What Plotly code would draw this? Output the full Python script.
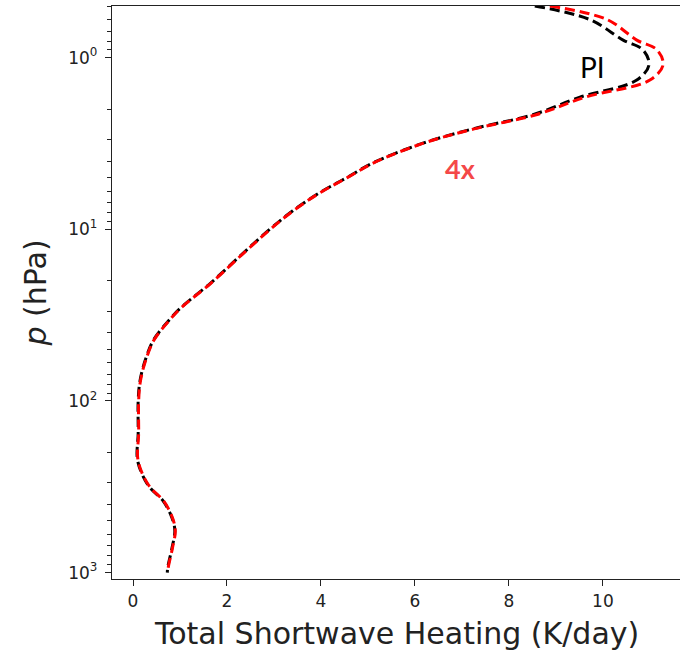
import numpy as np
import plotly.graph_objects as go

# Pressure levels (hPa)
p_levels = [0.5, 0.6, 0.79, 0.9, 1.1, 1.35, 1.7, 2.15, 2.6, 3.15, 4.1, 5.0, 6.1, 7.8,
            10.0, 13.8, 20.7, 28.6, 35.0, 44.5, 58.0, 76.0, 100.0, 155.0, 215.0,
            266.0, 320.0, 382.0, 480.0, 570.0, 718.0, 933.0, 1000.0]

# Total shortwave heating (K/day)
heating_pi = [8.55, 9.72, 10.43, 10.85, 10.98, 10.72, 9.51, 8.51, 7.23, 6.17, 5.11, 4.55,
              3.98, 3.40, 2.91, 2.34, 1.64, 1.02, 0.72, 0.43, 0.26, 0.15, 0.11, 0.11,
              0.09, 0.19, 0.36, 0.64, 0.83, 0.89, 0.83, 0.74, 0.73]
heating_4x = [8.87, 10.09, 10.72, 11.15, 11.28, 11.0, 9.62, 8.58, 7.26, 6.18, 5.12, 4.56,
              3.99, 3.41, 2.92, 2.35, 1.65, 1.03, 0.73, 0.44, 0.27, 0.16, 0.12, 0.12,
              0.10, 0.20, 0.37, 0.65, 0.84, 0.90, 0.84, 0.75, 0.74]

x_ticks = [0, 2, 4, 6, 8, 10]
y_ticks = [1, 10, 100, 1000]
y_tick_text = ["10<sup>0</sup>", "10<sup>1</sup>", "10<sup>2</sup>", "10<sup>3</sup>"]
y_minor = [m * 10.0 ** e for e in range(-1, 3) for m in range(2, 10) if 0.5 <= m * 10.0 ** e <= 1000]

W, H = 680, 659
L, R, T, B = 112, 0, 6, 80

fig = go.Figure()
fig.add_trace(go.Scatter(x=heating_pi, y=p_levels, mode="lines", line_shape="spline",
                         line=dict(color="black", width=3, dash="10px,5px"), showlegend=False))
fig.add_trace(go.Scatter(x=heating_4x, y=p_levels, mode="lines", line_shape="spline",
                         line=dict(color="#ff0000", width=3, dash="10px,5px"), showlegend=False))

axis_font = dict(family="DejaVu Sans", size=17, color="#222")
fig.update_layout(
    width=W, height=H,
    margin=dict(l=L, r=R, t=T, b=B),
    paper_bgcolor="white", plot_bgcolor="white",
    xaxis=dict(range=[-0.447, 11.64], tickvals=x_ticks, ticks="outside", ticklen=6,
               tickwidth=1.2, tickcolor="#222", showline=True, linecolor="#222", linewidth=1.3,
               mirror=True, showgrid=False, zeroline=False, tickfont=axis_font),
    yaxis=dict(type="log", range=[np.log10(1090), np.log10(0.5)], tickvals=y_ticks,
               ticktext=y_tick_text, ticks="outside", ticklen=6, tickwidth=1.2,
               tickcolor="#222", showline=True, linecolor="#222", linewidth=1.3,
               showgrid=False, zeroline=False, tickfont=axis_font, ticklabelstandoff=4,
               minor=dict(tickvals=y_minor, ticks="outside", ticklen=3.5, tickwidth=1,
                          tickcolor="#222", showgrid=False)),
    annotations=[
        dict(text="Total Shortwave Heating (K/day)", xref="paper", yref="paper",
             x=0.5, y=-(633 - (H - B)) / (H - T - B), xanchor="center", yanchor="middle",
             showarrow=False, font=dict(family="DejaVu Sans", size=30, color="#222")),
        dict(text="<i>p</i> (hPa)", xref="paper", yref="paper",
             x=(35 - L) / (W - L - R), y=0.5, xanchor="center", yanchor="middle",
             textangle=-90, showarrow=False,
             font=dict(family="DejaVu Sans", size=30, color="#222")),
        dict(text="PI", x=9.77, y=np.log10(1.14), xref="x", yref="y", showarrow=False,
             font=dict(family="Lato", size=28, color="black")),
        dict(text="<b>4x</b>", x=6.96, y=0.645, xref="x", yref="y", showarrow=False,
             font=dict(family="Lato", size=27, color="#f44848")),
    ],
)

fig.write_html("out.html", config={"displayModeBar": False},
               post_script="document.body.style.margin='0px';document.body.style.overflow='hidden';")
